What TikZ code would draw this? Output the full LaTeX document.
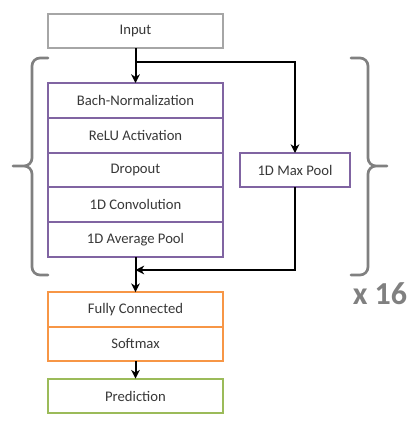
\documentclass[tikz,border=0pt]{standalone}
\usepackage{fontspec}
\setmainfont{Carlito}
\usetikzlibrary{arrows.meta}

\definecolor{txtgray}{RGB}{56,56,56}
\definecolor{boxgray}{RGB}{166,166,166}
\definecolor{bracegray}{RGB}{128,128,128}
\definecolor{layerpurple}{RGB}{128,100,162}
\definecolor{headorange}{RGB}{247,150,70}
\definecolor{outgreen}{RGB}{155,187,89}

\tikzset{
  layer/.style={draw, line width=1.5pt, fill=white, text=txtgray, outer sep=0pt,
    minimum width=131.25pt, minimum height=26.1pt, inner sep=0pt, font=\fontsize{11}{13}\selectfont},
  flow/.style={line width=1.5pt, -{Stealth[length=6.5pt,width=6.5pt,inset=2pt]}},
  brace/.style={line width=2pt, bracegray, line cap=round, line join=round}
}

\begin{document}
\begin{tikzpicture}[x=0.75pt, y=-0.75pt]
  \useasboundingbox (0,0) rectangle (419,422);
  % braces
  \draw[brace] (48,58) -- (40,58) to[out=180,in=90] (32,66) -- (32,158)
    to[out=-90,in=0] (24,166) -- (13,166) (24,166) to[out=0,in=90] (32,174)
    -- (32,267) to[out=-90,in=180] (40,275) -- (48,275) ;
  \draw[brace] (351,58) -- (360,58) to[out=0,in=90] (368,66) -- (368,158)
    to[out=-90,in=180] (376,166) -- (387,166) (376,166) to[out=180,in=90] (368,174)
    -- (368,267) to[out=-90,in=0] (360,275) -- (351,275) ;
  \node[anchor=base, text=bracegray, font=\fontsize{24}{28}\selectfont\bfseries] (rep) at (380,304) {x 16};
  % input
  \node[layer, draw=boxgray] (inp) at (135.5,31) {Input};
  % residual block
  \node[layer, draw=layerpurple] (bn) at (135.5,100.4) {Bach-Normalization};
  \node[layer, draw=layerpurple] (relu) at (135.5,135.2) {ReLU Activation};
  \node[layer, draw=layerpurple] (drop) at (135.5,170) {Dropout};
  \node[layer, draw=layerpurple] (conv) at (135.5,204.8) {1D Convolution};
  \node[layer, draw=layerpurple] (avg) at (135.5,239.6) {1D Average Pool};
  \node[layer, draw=layerpurple, minimum width=82.5pt, minimum height=25.5pt] (maxp) at (295,170) {1D Max Pool};
  % head
  \node[layer, draw=headorange] (fc) at (135.5,309.5) {Fully Connected};
  \node[layer, draw=headorange] (soft) at (135.5,344) {Softmax};
  \node[layer, draw=outgreen] (pred) at (135.5,396) {Prediction};
  % connections
  \coordinate (split) at (135.5,62) ;
  \coordinate (join) at (135.5,270) ;
  \draw[flow] (inp) -- (bn) ;
  \draw[flow] (split) -| (maxp) ;
  \draw[flow] (maxp) |- (join) ;
  \draw[flow] (avg) -- (fc) ;
  \draw[flow] (soft) -- (pred) ;
\end{tikzpicture}
\end{document}
